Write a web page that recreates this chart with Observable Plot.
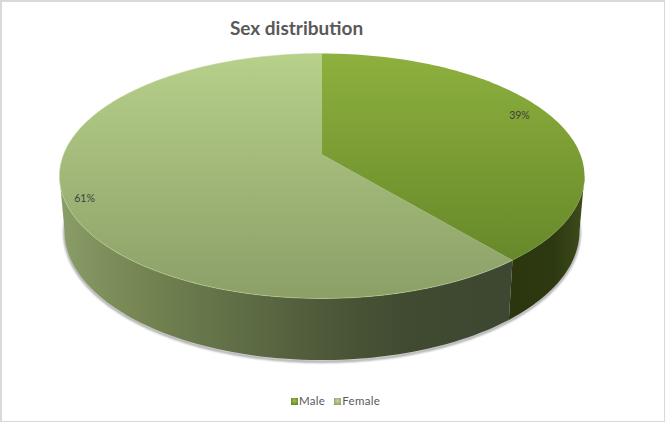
<!DOCTYPE html>
<html><head><meta charset="utf-8">
<script src="https://cdn.jsdelivr.net/npm/d3@7"></script>
<script src="https://cdn.jsdelivr.net/npm/@observablehq/plot@0.6"></script>
<style>
html,body{margin:0;padding:0;background:#fff;overflow:hidden}
#chart{position:relative;width:665px;height:422px;font-family:Lato,sans-serif;box-sizing:border-box}
#chart::after{content:"";position:absolute;inset:0;border:solid #d9d9d9;border-width:2px 1.5px 1.5px 2px;pointer-events:none}
#title{height:45px;line-height:56px;font-size:19px;font-weight:700;color:#595959;width:593px;text-align:center}
#plot svg{display:block}
#legend{position:absolute;top:392px;left:291px;display:flex;align-items:center;font-size:11.5px;color:#595959;letter-spacing:.3px;height:16px}
#legend i{display:inline-block;width:7px;height:7px;margin-right:1px;margin-top:2px}
#legend span{margin-right:9px;display:flex;align-items:center}
</style></head><body>
<div id="chart"><div id="title"></div><div id="plot"></div><div id="legend"></div></div>
<script>
const titleText = "Sex distribution";
const categories = ["Male", "Female"];
const shares = [39, 61];
const labels = ["39%", "61%"];
const topColors = [["#8db03e", "#678829"], ["#b7d08a", "#8b9f67"]];
const swatchColors = [["#9dbf50", "#577a20"], ["#c3d6a0", "#7f9560"]];

// Perspective of the tilted disc, in unit-disc terms
const persp = 0.1755;
const discTop = {sx: 1, sy: 1, oy: 0};
const discBottom = {sx: 0.981, sy: 1.053, oy: 0.455};
const silhouette = Math.acos(persp) / (2 * Math.PI);
const rightTurn = 0.5 - silhouette, leftTurn = 0.5 + silhouette;

function project(turn, d) {
  const a = turn * 2 * Math.PI, u = Math.sin(a), v = -Math.cos(a), w = 1 - persp * v;
  return {x: d.sx * u / w, y: d.oy + d.sy * v / w};
}
function arc(t0, t1, d) {
  const n = Math.max(2, Math.ceil(Math.abs(t1 - t0) * 240));
  return d3.range(n + 1).map(i => project(t0 + (t1 - t0) * i / n, d));
}
const total = d3.sum(shares);
const split = shares[0] / total;
const centre = {x: 0, y: 0};
const maleTop = [centre, ...arc(0, split, discTop)];
const femaleTop = [centre, ...arc(split, 1, discTop)];
const maleWall = [...arc(rightTurn, split, discTop), ...arc(split, rightTurn, discBottom)];
const femaleWall = [...arc(split, leftTurn, discTop), ...arc(leftTurn, split, discBottom)];
const rim = arc(split, 1, discTop);
const maleRim = arc(rightTurn, split, discTop);
const shadowEdge = arc(rightTurn - 0.01, leftTurn + 0.01, {...discBottom, oy: discBottom.oy + 0.012});
const maleLabel = [{...project(split / 2, discTop), text: labels[0]}];
const femaleLabel = [{...project(split + (shares[1] / total) / 2, discTop), text: labels[1]}];

const svgTop = 45, plotH = 325;
const cx = 321.5, cy = 154 - svgTop, A = 258.4, B = 118.7;

function gradient(id, x1, y1, x2, y2, stops) {
  return `<linearGradient id="${id}" gradientUnits="userSpaceOnUse" x1="${x1}" y1="${y1}" x2="${x2}" y2="${y2}">` +
    stops.map(([o, c]) => `<stop offset="${o}" stop-color="${c}"/>`).join("") + `</linearGradient>`;
}
const defsMark = () => {
  const s = document.createElementNS("http://www.w3.org/2000/svg", "defs");
  s.innerHTML =
    gradient("gMale", 0, 53 - svgTop, 0, 262 - svgTop, [[0, topColors[0][0]], [1, topColors[0][1]]]) +
    gradient("gFemale", 0, 53 - svgTop, 0, 298 - svgTop, [[0, topColors[1][0]], [1, topColors[1][1]]]) +
    gradient("wFemale", 60, 0, 515, 0, [[0, "#8b9d69"], [0.05, "#839561"], [0.2, "#728250"], [0.4, "#5f6d46"], [0.57, "#4e5a39"], [0.75, "#414b31"], [1, "#3d4731"]]) +
    gradient("wMale", 508, 0, 584, 0, [[0, "#2b360f"], [0.6, "#2d3911"], [1, "#3f4c1b"]]);
  return s;
};

const line = (data, o) => Plot.line(data, {x: "x", y: "y", curve: "linear", ...o});
const labelStyle = {x: "x", y: "y", text: "text", fill: "#404040", fontSize: 10.5, fontFamily: "Lato, sans-serif"};
const blurred = (I, s, v, d, c, next) => {
  const g = next(I, s, v, d, c);
  g.style.filter = "blur(1.3px)";
  return g;
};

document.getElementById("title").textContent = titleText;
document.getElementById("plot").append(Plot.plot({
  width: 665, height: plotH,
  margin: 0,
  style: {background: "transparent"},
  x: {axis: null, domain: [-1, 1], range: [cx - A, cx + A]},
  y: {axis: null, domain: [-1, 1], range: [cy - B, cy + B]},
  marks: [
    defsMark,
    line(shadowEdge, {stroke: "#777", strokeWidth: 2.2, strokeOpacity: 0.75, render: blurred}),
    line(femaleWall, {fill: "url(#wFemale)", stroke: "none"}),
    line(maleWall, {fill: "url(#wMale)", stroke: "none"}),
    line(femaleTop, {fill: "url(#gFemale)", stroke: "none"}),
    line(maleTop, {fill: "url(#gMale)", stroke: "none"}),
    line(rim, {stroke: "#bcd594", strokeWidth: 1, strokeOpacity: 0.55}),
    line(maleRim, {stroke: "#7d9c3c", strokeWidth: 0.8, strokeOpacity: 0.5}),
    Plot.text(maleLabel, {...labelStyle, dx: -32, dy: -1}),
    Plot.text(femaleLabel, {...labelStyle, dx: 21, dy: 1})
  ]
}));

const legend = document.getElementById("legend");
categories.forEach((c, i) => {
  const s = document.createElement("span");
  const sw = document.createElement("i");
  sw.style.background = `radial-gradient(circle at 50% 40%, ${swatchColors[i][0]}, ${swatchColors[i][1]})`;
  s.append(sw, c);
  legend.append(s);
});
</script>
</body></html>
